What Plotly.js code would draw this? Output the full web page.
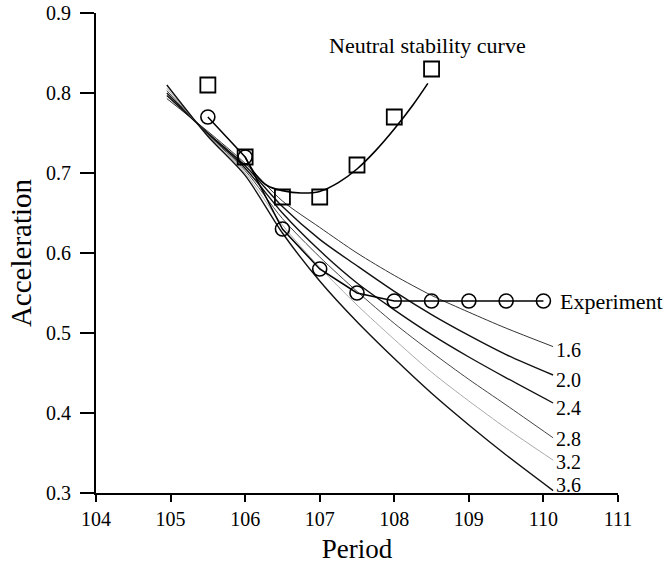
<!DOCTYPE html>
<html>
<head>
<meta charset="utf-8">
<script src="https://cdn.plot.ly/plotly-3.0.1.min.js"></script>
<style>html,body{margin:0;padding:0;background:#fff;}#chart{width:667px;height:568px;}</style>
</head>
<body>
<div id="chart"></div>
<script>
// Theoretical curves (labelled 1.6 ... 3.6)
const curveX = [104.95, 105.5, 106, 106.5, 107, 107.5, 108, 108.5, 109, 109.5, 110.13];
const curve16 = [0.793, 0.752, 0.712, 0.665, 0.632, 0.600, 0.572, 0.547, 0.526, 0.506, 0.483];
const curve20 = [0.797, 0.750, 0.709, 0.658, 0.617, 0.584, 0.552, 0.523, 0.497, 0.473, 0.4475];
const curve24 = [0.800, 0.749, 0.706, 0.650, 0.603, 0.5625, 0.529, 0.498, 0.470, 0.444, 0.4125];
const curve28 = [0.803, 0.748, 0.703, 0.643, 0.595, 0.552, 0.512, 0.476, 0.442, 0.410, 0.369];
const curve32 = [0.806, 0.747, 0.700, 0.635, 0.582, 0.535, 0.492, 0.451, 0.415, 0.381, 0.341];
const curve36 = [0.810, 0.746, 0.697, 0.625, 0.565, 0.514, 0.468, 0.4246, 0.385, 0.3475, 0.303];
const curveLabels = ["1.6", "2.0", "2.4", "2.8", "3.2", "3.6"];
const curveLabelY = [0.479, 0.441, 0.406, 0.368, 0.339, 0.310];

// Experiment (circles)
const expX = [105.5, 106, 106.5, 107, 107.5, 108, 108.5, 109, 109.5, 110];
const expY = [0.77, 0.72, 0.63, 0.58, 0.55, 0.54, 0.54, 0.54, 0.54, 0.54];

// Neutral stability (squares) and its fitted curve
const neutX = [105.5, 106, 106.5, 107, 107.5, 108, 108.5];
const neutY = [0.81, 0.72, 0.67, 0.67, 0.71, 0.77, 0.83];
const neutCurveX = [106.0, 106.15, 106.3, 106.5, 106.75, 107.0, 107.25, 107.5, 107.75, 108.0, 108.25, 108.45];
const neutCurveY = [0.72, 0.697, 0.684, 0.678, 0.675, 0.677, 0.688, 0.705, 0.728, 0.755, 0.785, 0.812];

const serif = "Liberation Serif, Times New Roman, serif";
const curves = [curve16, curve20, curve24, curve28, curve32, curve36];
const styles = [
  {color: "#333", width: 1},
  {color: "#111", width: 1.4},
  {color: "#111", width: 1.4},
  {color: "#444", width: 1},
  {color: "#aaa", width: 1},
  {color: "#111", width: 1.4}
];

const traces = curves.map((c, i) => ({
  x: curveX, y: c, type: "scatter", mode: "lines",
  line: {color: styles[i].color, width: styles[i].width, shape: "spline", smoothing: 0.8},
  hoverinfo: "skip"
}));

traces.push({
  x: neutCurveX, y: neutCurveY, type: "scatter", mode: "lines",
  line: {color: "#000", width: 1.6, shape: "spline", smoothing: 1}
});
traces.push({
  x: expX, y: expY, type: "scatter", mode: "lines+markers",
  line: {color: "#000", width: 1.5},
  marker: {symbol: "circle-open", size: 14, color: "#000", line: {width: 1.6, color: "#000"}}
});
traces.push({
  x: neutX, y: neutY, type: "scatter", mode: "markers",
  marker: {symbol: "square-open", size: 15, color: "#000", line: {width: 1.8, color: "#000"}}
});

const annotations = curveLabels.map((t, i) => ({
  x: 110.15, y: curveLabelY[i], xref: "x", yref: "y", text: t, showarrow: false,
  xanchor: "left", yanchor: "middle", borderpad: 0,
  font: {family: serif, size: 20, color: "#000"}
}));
annotations.push({
  x: 110.19, y: 0.54, xref: "x", yref: "y", text: "Experiment", showarrow: false,
  xanchor: "left", yanchor: "middle", font: {family: serif, size: 22, color: "#000"}
});
annotations.push({
  x: 108.44, y: 0.86, xref: "x", yref: "y", text: "Neutral stability curve", showarrow: false,
  xanchor: "center", yanchor: "middle", font: {family: serif, size: 22, color: "#000"}
});

const layout = {
  width: 667, height: 568,
  margin: {l: 96, r: 49, t: 13, b: 75},
  paper_bgcolor: "#fff", plot_bgcolor: "#fff",
  showlegend: false,
  font: {family: serif, color: "#000"},
  xaxis: {
    range: [104, 111], tickvals: [104, 105, 106, 107, 108, 109, 110, 111],
    showgrid: false, zeroline: false, showline: true, linecolor: "#000", linewidth: 2,
    ticks: "outside", ticklen: 7, tickwidth: 2, tickcolor: "#000",
    tickfont: {family: serif, size: 20, color: "#000"},
    title: {text: "Period", font: {family: serif, size: 27, color: "#000"}, standoff: 10}
  },
  yaxis: {
    range: [0.3, 0.9], tickvals: [0.3, 0.4, 0.5, 0.6, 0.7, 0.8, 0.9], tickformat: ".1f",
    showgrid: false, zeroline: false, showline: true, linecolor: "#000", linewidth: 2,
    ticks: "outside", ticklen: 14, tickwidth: 2, tickcolor: "#000",
    ticklabelstandoff: 5,
    tickfont: {family: serif, size: 20, color: "#000"},
    title: {text: "Acceleration", font: {family: serif, size: 29, color: "#000"}, standoff: 6}
  },
  annotations: annotations
};

Plotly.newPlot("chart", traces, layout, {displayModeBar: false, staticPlot: true});
</script>
</body>
</html>
